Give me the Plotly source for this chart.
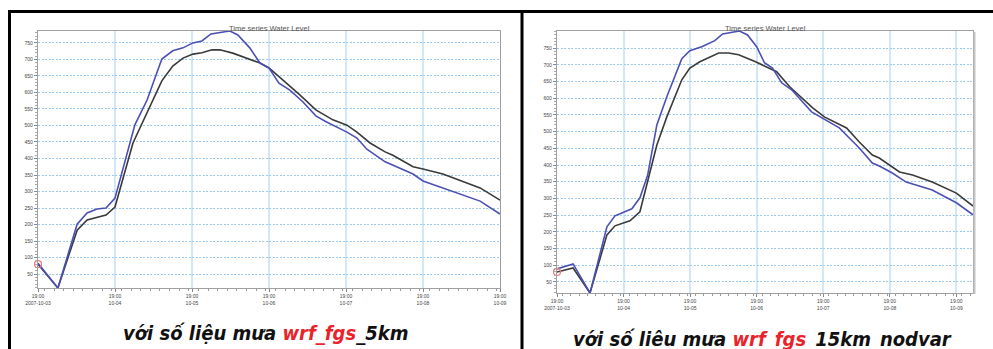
import pandas as pd
import plotly.graph_objects as go

BASE = pd.Timestamp("2007-10-03 19:00")

# ---- left chart (wrf_fgs_5km) ----
left_blue_hours = [0, 6.2, 12.2, 15.3, 18.4, 21.2, 24, 30.2, 34, 38.6, 42, 45.2, 48.3, 51.1, 53.9,
                   59.8, 62.3, 66, 69.2, 72, 75.1, 78.5, 82.6, 86.6, 89.5, 96.3, 99.4, 102.5, 108.2,
                   110.6, 116.9, 120, 126.2, 137.8, 144]
left_blue_level = [83, 8, 201, 235, 247, 250, 280, 502, 577, 701, 726, 735, 750, 756, 777,
                   786, 774, 735, 689, 674, 628, 607, 571, 529, 513, 480, 462, 428, 390,
                   380, 353, 332, 311, 271, 232]
left_black_hours = [0, 6.2, 12.2, 15.3, 21.2, 24, 29.6, 34, 38.6, 42, 45.2, 48.3, 51.1, 54.2, 56.7,
                    60.7, 65, 69.2, 72, 76.4, 81.7, 86.6, 91.9, 96.3, 99.4, 103.5, 108.2, 110.6,
                    116.9, 120, 126.2, 137.8, 144]
left_black_level = [80, 8, 183, 214, 229, 253, 447, 538, 635, 680, 704, 716, 720, 729, 729,
                    719, 704, 689, 674, 638, 592, 547, 517, 501, 480, 447, 420, 410,
                    375, 368, 353, 311, 274]

# ---- right chart (wrf_fgs_15km_nodvar) ----
right_blue_hours = [0, 5.8, 11.9, 18, 20.9, 27, 29.9, 32.7, 36, 39.6, 45, 47.9, 52.2, 56.9, 59.7,
                    65.8, 68.7, 72, 74.8, 77.7, 81, 84.6, 91.8, 96.4, 101.8, 105.4, 109, 113.7,
                    116.2, 120.9, 125.9, 135.3, 144, 150]
right_blue_level = [89, 104, 17, 215, 248, 269, 302, 370, 520, 604, 718, 742, 754, 772, 792,
                    801, 789, 754, 706, 690, 646, 625, 559, 538, 511, 481, 451, 406,
                    397, 376, 349, 325, 287, 251]
right_black_hours = [0, 5.8, 11.9, 18, 20.9, 26.3, 29.9, 36, 39.6, 45, 47.9, 51.5, 58.3, 61.9, 65.5,
                     71.6, 79.2, 83.9, 92.2, 96.4, 104.4, 109, 113.7, 116.2, 123.5, 128.2, 135.3,
                     144, 150]
right_black_level = [80, 92, 17, 191, 218, 233, 260, 460, 544, 655, 690, 709, 735, 735, 730,
                     709, 679, 634, 571, 544, 511, 469, 430, 421, 379, 370, 349,
                     316, 277]

left_end_hours = 144
right_end_hours = 150

tick_days = [0, 1, 2, 3, 4, 5, 6]
tick_text = ["19:00<br>2007-10-03", "19:00<br>10-04", "19:00<br>10-05", "19:00<br>10-06",
             "19:00<br>10-07", "19:00<br>10-08", "19:00<br>10-09"]
y_ticks = list(range(50, 800, 50))

title_text = "Time series Water Level"
caption_left = "với số liệu mưa <span style='color:#e8232b'>wrf_fgs</span>_5km"
caption_right = "với số liêu mưa <span style='color:#e8232b'>wrf_fgs</span>_15km_nodvar"

W, H = 993, 349


def t(hours):
    return [BASE + pd.Timedelta(hours=h) for h in hours]


def px(x):
    return x / W


def py(y):
    return 1 - y / H


BLUE = "#4b50b4"
BLACK = "#3a3a3a"

fig = go.Figure()
panels = [
    ("x", "y", left_blue_hours, left_blue_level, left_black_hours, left_black_level),
    ("x2", "y2", right_blue_hours, right_blue_level, right_black_hours, right_black_level),
]
for xa, ya, bh, bl, kh, kl in panels:
    fig.add_trace(go.Scatter(x=t(kh), y=kl, mode="lines", line=dict(color=BLACK, width=1.6),
                             xaxis=xa, yaxis=ya, showlegend=False))
    fig.add_trace(go.Scatter(x=t(bh), y=bl, mode="lines", line=dict(color=BLUE, width=1.6),
                             xaxis=xa, yaxis=ya, showlegend=False))
    fig.add_trace(go.Scatter(x=t(kh[:1]), y=kl[:1], mode="markers", cliponaxis=False,
                             marker=dict(symbol="circle-open", color="#f07a7a", size=7, line=dict(width=1.2)),
                             xaxis=xa, yaxis=ya, showlegend=False))


def xaxis_cfg(domain, end_h):
    return dict(
        domain=domain, type="date", automargin=False,
        range=[BASE, BASE + pd.Timedelta(hours=end_h)],
        tickvals=[BASE + pd.Timedelta(days=d) for d in tick_days], ticktext=tick_text,
        tickfont=dict(size=5, color="#444", family="Liberation Sans"),
        ticks="outside", ticklen=3, tickcolor="#888", tickangle=0,
        showline=True, linecolor="#a0a0a0", linewidth=1.2, mirror=True,
        showgrid=True, gridcolor="#d2e8f8", gridwidth=2.2, zeroline=False,
        minor=dict(dtick=3 * 3600 * 1000, ticks="outside", ticklen=2, tickcolor="#999", showgrid=False),
    )


def yaxis_cfg(domain, anchor, values):
    return dict(
        domain=domain, anchor=anchor, range=[min(values), max(values)], automargin=False,
        tickvals=y_ticks, tickfont=dict(size=5, color="#444", family="Liberation Sans"),
        ticks="outside", ticklen=3, tickcolor="#888",
        showline=True, linecolor="#a0a0a0", linewidth=1.2, mirror=True,
        showgrid=True, gridcolor="#9ccaee", gridwidth=1.3, griddash="2px,1.5px", zeroline=False,
        minor=dict(dtick=10, ticks="outside", ticklen=2, tickcolor="#aaa", showgrid=False),
    )


fig.update_layout(
    width=W, height=H, margin=dict(l=0, r=0, t=0, b=0, autoexpand=False),
    paper_bgcolor="white", plot_bgcolor="white",
    xaxis=dict(xaxis_cfg([px(38), px(500)], left_end_hours), anchor="y"),
    yaxis=yaxis_cfg([py(288), py(31)], "x", left_blue_level + left_black_level),
    xaxis2=dict(xaxis_cfg([px(557), px(973)], right_end_hours), anchor="y2"),
    yaxis2=yaxis_cfg([py(293), py(31)], "x2", right_blue_level + right_black_level),
)

# titles
for cx in (269, 765):
    fig.add_annotation(text=title_text, xref="paper", yref="paper", x=px(cx), y=py(28),
                       xanchor="center", yanchor="middle", showarrow=False,
                       font=dict(size=7.5, color="#555", family="Liberation Sans"))

cap_font = dict(size=20, color="#111", family="Liberation Sans Narrow, DejaVu Sans Condensed, Noto Sans")
fig.add_annotation(text="<b><i>" + caption_left + "</i></b>", xref="paper", yref="paper",
                   x=px(265), y=py(333), xanchor="center", yanchor="middle", showarrow=False, font=cap_font)
fig.add_annotation(text="<b><i>" + caption_right + "</i></b>", xref="paper", yref="paper",
                   x=px(762), y=py(339), xanchor="center", yanchor="middle", showarrow=False, font=cap_font)

# panel borders
border = dict(color="black", width=3)
fig.add_shape(type="line", xref="paper", yref="paper", x0=px(8), x1=1, y0=py(11.5), y1=py(11.5), line=border)
fig.add_shape(type="line", xref="paper", yref="paper", x0=px(9.5), x1=px(9.5), y0=py(11), y1=0, line=border)
fig.add_shape(type="line", xref="paper", yref="paper", x0=px(522), x1=px(522), y0=py(11), y1=0, line=border)
# shaded right edge of the right chart frame
fig.add_shape(type="line", xref="paper", yref="paper", x0=px(974.5), x1=px(974.5), y0=py(32), y1=py(294),
              line=dict(color="#c4c4c4", width=2))

fig.write_html("out.html", config={"displayModeBar": False},
               post_script="document.body.style.margin='0';document.body.style.overflow='hidden';")
